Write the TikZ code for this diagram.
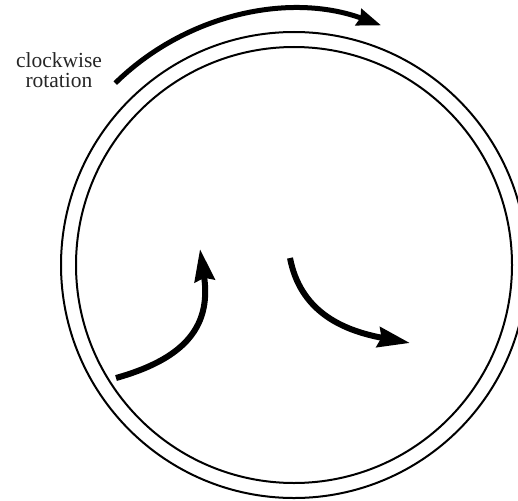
\documentclass[tikz,border=0pt]{standalone}
\usepackage{fontspec}
\setmainfont{Liberation Serif}
\usetikzlibrary{arrows.meta,calc}
\begin{document}
\begin{tikzpicture}[x=1pt,y=-1pt,
  ring/.style={line width=2pt},
  flow/.style={line width=6pt,-{Stealth[length=32pt,width=20pt,inset=3pt]}},
  spin/.style={line width=5pt,-{Stealth[length=24pt,width=17pt,inset=2pt]}},
  lbl/.style={font=\fontsize{21.5}{20}\selectfont,align=center,text=black!85}]
\useasboundingbox (0,0) rectangle (518,500);
\clip (0,0) rectangle (518,500);
\coordinate (c) at (294,265);
\draw[ring] (c) circle[radius=233];
\draw[ring] (c) circle[radius=218];
\node[lbl] (txt) at (59,70) {clockwise\\rotation};
\coordinate (s0) at ($(c)+(-134.5:255)$);
\draw[spin] (s0) arc[start angle=-134.5,end angle=-70,radius=255];
\coordinate (a1) at (116,378);
\coordinate (a2) at (200,249);
\draw[flow] (a1) .. controls (180,360) and (212,330) .. (a2);
\coordinate (b1) at (290,258);
\coordinate (b2) at (410,343);
\draw[flow] (b1) .. controls (300,310) and (340,330) .. (b2);
\end{tikzpicture}
\end{document}
